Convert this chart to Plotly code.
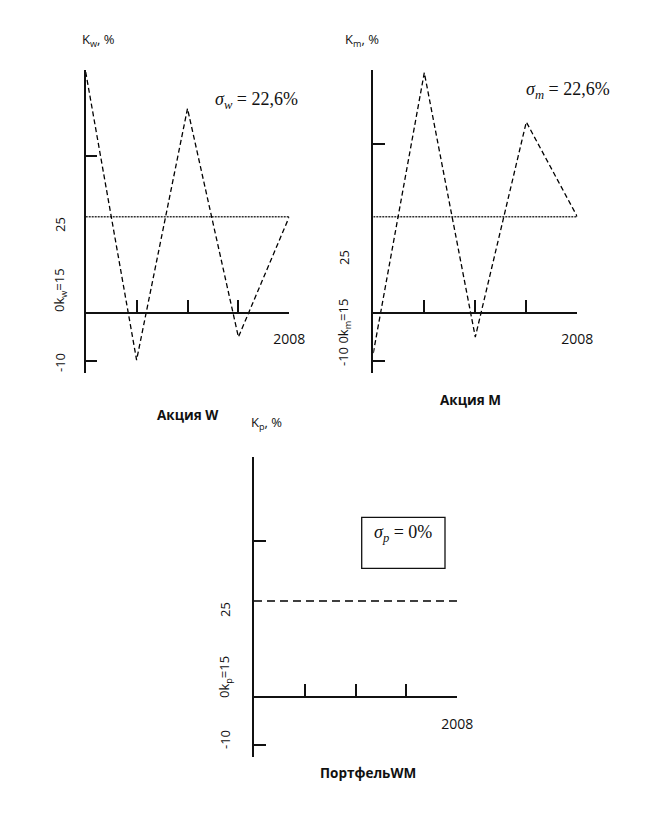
import plotly.graph_objects as go

# values (percent, years)
years = [2004, 2005, 2006, 2007, 2008]
k_w = [37.6, -7.4, 31.9, -3.8, 15]
k_m = [-6.3, 37.5, -3.8, 29.8, 15]
k_p = [15, 15, 15, 15, 15]
k_mean = 15

ytick_w = [-7.5, 24.5]
ytick_m = [-7.5, 26.3]
ytick_p = [-7.5, 24.4]
xtick_text = ["", "", "", "2008"]

sigma_w = "22,6%"
sigma_m = "22,6%"
sigma_p = "0%"

OFF = 8                        # page body margin around the plot div
W, H = 661 - 2 * OFF, 817 - 2 * OFF - 1
SCALE = 6.4  # px per percent in the original drawing


def px(x):
    return (x - OFF) / W


def py(y):
    return 1 - (y - OFF) / H


def axes(x0, x1, zero_y, y_range, ytick):
    lo, hi = y_range
    xa = dict(domain=[px(x0), px(x1)], range=[years[0], years[-1]],
              anchor="free", position=py(zero_y), automargin=False,
              showline=True, linecolor="#111", linewidth=1.5,
              ticks="inside", ticklen=12, tickwidth=1.5, tickcolor="#111",
              tickvals=years[1:], ticktext=xtick_text, ticklabelstandoff=14,
              tickfont=dict(family="Open Sans", size=14, color="#111"),
              showgrid=False, zeroline=False, fixedrange=True)
    ya = dict(domain=[py(zero_y - lo * SCALE), py(zero_y - hi * SCALE)],
              range=[lo, hi], automargin=False,
              showline=True, linecolor="#111", linewidth=1.5,
              ticks="inside", ticklen=12, tickwidth=1.5, tickcolor="#111",
              tickvals=ytick, showticklabels=False,
              showgrid=False, zeroline=False, fixedrange=True)
    return xa, ya


fig = go.Figure()

dash_line = dict(color="black", width=1.3, dash="5px,3px")
dot_line = dict(color="#333", width=1.6, dash="2px,1px")

# Акция W
fig.add_trace(go.Scatter(x=[years[0], years[-1]], y=[k_mean, k_mean], mode="lines",
                         line=dot_line, xaxis="x", yaxis="y", hoverinfo="skip"))
fig.add_trace(go.Scatter(x=years, y=k_w, mode="lines", line=dash_line,
                         xaxis="x", yaxis="y", name="W"))

# Акция M
fig.add_trace(go.Scatter(x=[years[0], years[-1]], y=[k_mean, k_mean], mode="lines",
                         line=dot_line, xaxis="x2", yaxis="y2", hoverinfo="skip"))
fig.add_trace(go.Scatter(x=years, y=k_m, mode="lines", line=dash_line,
                         xaxis="x2", yaxis="y2", name="M"))

# Портфель WM
fig.add_trace(go.Scatter(x=years, y=k_p, mode="lines",
                         line=dict(color="black", width=1.5, dash="8px,5px"),
                         xaxis="x3", yaxis="y3", name="WM"))

xa1, ya1 = axes(85.7, 289.3, 312.7, (-9.4, 38), ytick_w)
xa2, ya2 = axes(373.3, 577.3, 312.7, (-9.4, 38), ytick_m)
xa3, ya3 = axes(254, 457.3, 697, (-9.3, 37.5), ytick_p)
ya1["anchor"] = "x"
ya2["anchor"] = "x2"
ya3["anchor"] = "x3"

sans = dict(family="Open Sans", size=13, color="#111")
serif = dict(family="Liberation Serif", size=18, color="#111")
bold = dict(family="Open Sans", size=13.5, color="#111")


def note(x, y, text, font, angle=0):
    return dict(x=px(x), y=py(y), xref="paper", yref="paper", text=text,
                showarrow=False, font=font, textangle=angle,
                xanchor="center", yanchor="middle")


annotations = [
    note(98, 40, "K<sub>w</sub>, %", sans),
    note(362, 40, "K<sub>m</sub>, %", sans),
    note(266, 423, "K<sub>p</sub>, %", sans),
    note(256, 101, "<i>σ<sub>w</sub></i> = " + sigma_w, serif),
    note(568, 90, "<i>σ<sub>m</sub></i> = " + sigma_m, serif),
    note(403, 533, "<i>σ<sub>p</sub></i> = " + sigma_p, serif),
    note(188, 415, "<b>Акция W</b>", bold),
    note(470, 400, "<b>Акция M</b>", bold),
    note(368, 773, "<b>ПортфельWM</b>", bold),
    note(60, 225, "25", sans, -90),
    note(60, 290, "0k<sub>w</sub>=15", sans, -90),
    note(60, 363, "-10", sans, -90),
    note(344, 258, "25", sans, -90),
    note(344, 333, "-10 0k<sub>m</sub>=15", sans, -90),
    note(225, 610, "25", sans, -90),
    note(225, 677, "0k<sub>p</sub>=15", sans, -90),
    note(225, 740, "-10", sans, -90),
]

fig.update_layout(
    width=W, height=H,
    margin=dict(l=0, r=0, t=0, b=0, pad=0),
    paper_bgcolor="white", plot_bgcolor="white",
    showlegend=False,
    xaxis=xa1, yaxis=ya1,
    xaxis2=xa2, yaxis2=ya2,
    xaxis3=xa3, yaxis3=ya3,
    annotations=annotations,
    shapes=[dict(type="rect", xref="paper", yref="paper",
                 x0=px(361.7), x1=px(445), y0=py(568.3), y1=py(517.3),
                 line=dict(color="#111", width=1.3))],
)

fig.write_html("out.html")
